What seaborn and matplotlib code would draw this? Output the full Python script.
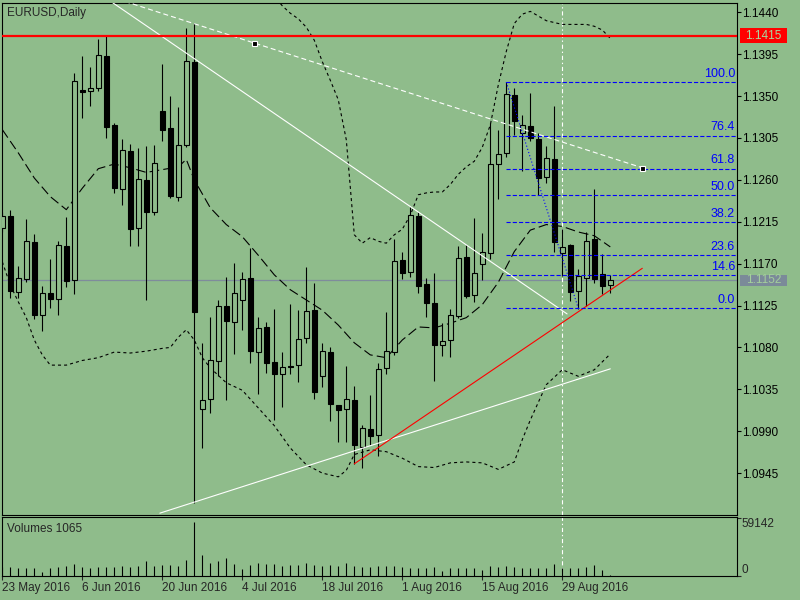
import matplotlib
matplotlib.use("Agg")
import matplotlib.pyplot as plt
import matplotlib.transforms as mtransforms
from matplotlib.patches import Rectangle
import numpy as np
import pandas as pd
import seaborn as sns

bg = "#8fbc8b"
sns.set_style("ticks", rc={"axes.facecolor": bg, "figure.facecolor": bg,
                           "axes.edgecolor": "black", "axes.linewidth": 0.8})
plt.rcParams["font.family"] = ["Liberation Sans", "DejaVu Sans"]
plt.rcParams["lines.scale_dashes"] = False

symbol = "EURUSD,Daily"
start_date = "2016-05-23"

# daily OHLC
opens = [1.1208, 1.1221, 1.1140, 1.1154, 1.1193, 1.1115, 1.1138, 1.1132, 1.1189, 1.1152,
         1.1357, 1.1355, 1.1359, 1.1393, 1.1319, 1.1250, 1.1291, 1.1208, 1.1260, 1.1226,
         1.1334, 1.1316, 1.1242, 1.1297, 1.1387, 1.1014, 1.1025, 1.1065, 1.1125, 1.1107,
         1.1131, 1.1155, 1.1075, 1.1102, 1.1064, 1.1051, 1.1060, 1.1061, 1.1090, 1.1120,
         1.1049, 1.1075, 1.1018, 1.1014, 1.1024, 1.0973, 1.0992, 1.0986, 1.1058, 1.1075,
         1.1174, 1.1161, 1.1221, 1.1148, 1.1128, 1.1083, 1.1088, 1.1114, 1.1177, 1.1136,
         1.1170, 1.1181, 1.1277, 1.1289, 1.1351, 1.1310, 1.1318, 1.1304, 1.1263, 1.1282,
         1.1181, 1.1190, 1.1141, 1.1155, 1.1196, 1.1159, 1.1147]
highs = [1.1226, 1.1228, 1.1168, 1.1218, 1.1202, 1.1146, 1.1175, 1.1194, 1.1220, 1.1375,
         1.1393, 1.1381, 1.1411, 1.1415, 1.1321, 1.1304, 1.1299, 1.1294, 1.1296, 1.1297,
         1.1384, 1.1350, 1.1338, 1.1423, 1.1428, 1.1085, 1.1113, 1.1131, 1.1156, 1.1171,
         1.1161, 1.1187, 1.1113, 1.1107, 1.1121, 1.1075, 1.1127, 1.1120, 1.1166, 1.1149,
         1.1085, 1.1081, 1.1018, 1.1060, 1.1039, 1.0997, 1.1029, 1.1063, 1.1118, 1.1196,
         1.1182, 1.1231, 1.1226, 1.1155, 1.1160, 1.1106, 1.1121, 1.1189, 1.1190, 1.1219,
         1.1203, 1.1321, 1.1314, 1.1365, 1.1359, 1.1330, 1.1353, 1.1310, 1.1296, 1.1339,
         1.1207, 1.1191, 1.1164, 1.1204, 1.1250, 1.1180, 1.1158]
lows = [1.1204, 1.1133, 1.1133, 1.1150, 1.1111, 1.1098, 1.1122, 1.1115, 1.1145, 1.1137,
        1.1326, 1.1339, 1.1355, 1.1305, 1.1246, 1.1233, 1.1189, 1.1189, 1.1131, 1.1222,
        1.1302, 1.1241, 1.1237, 1.1295, 1.0913, 1.0972, 1.1010, 1.1049, 1.1024, 1.1073,
        1.1099, 1.1063, 1.1030, 1.1053, 1.1002, 1.1016, 1.1052, 1.1043, 1.1085, 1.1025,
        1.1038, 1.1001, 1.0978, 1.0978, 1.0955, 1.0950, 1.0975, 1.0963, 1.1051, 1.1072,
        1.1153, 1.1156, 1.1139, 1.1113, 1.1044, 1.1071, 1.1070, 1.1112, 1.1133, 1.1129,
        1.1152, 1.1175, 1.1239, 1.1285, 1.1308, 1.1269, 1.1302, 1.1244, 1.1257, 1.1182,
        1.1157, 1.1130, 1.1121, 1.1125, 1.1149, 1.1137, 1.1138]
closes = [1.1221, 1.1141, 1.1155, 1.1194, 1.1115, 1.1139, 1.1132, 1.1190, 1.1151, 1.1366,
          1.1354, 1.1359, 1.1394, 1.1317, 1.1251, 1.1292, 1.1207, 1.1261, 1.1225, 1.1278,
          1.1314, 1.1243, 1.1297, 1.1388, 1.1118, 1.1024, 1.1066, 1.1124, 1.1108, 1.1139,
          1.1154, 1.1076, 1.1101, 1.1063, 1.1051, 1.1059, 1.1059, 1.1089, 1.1119, 1.1032,
          1.1076, 1.1019, 1.1013, 1.1025, 1.0975, 1.0993, 1.0985, 1.1057, 1.1076, 1.1173,
          1.1160, 1.1222, 1.1146, 1.1128, 1.1083, 1.1087, 1.1115, 1.1176, 1.1135, 1.1160,
          1.1182, 1.1277, 1.1288, 1.1352, 1.1323, 1.1319, 1.1305, 1.1262, 1.1283, 1.1193,
          1.1188, 1.1140, 1.1157, 1.1194, 1.1153, 1.1146, 1.1152]
volumes = [8736, 8736, 7728, 7728, 7728, 4368, 8400, 9408, 10416, 12768,
           9408, 7728, 8736, 9408, 9408, 10416, 9408, 10080, 15120, 10080,
           11088, 11088, 10080, 16128, 54800, 21168, 13440, 15120, 18816, 12768,
           7056, 11088, 13776, 12096, 12768, 10416, 11088, 11088, 13776, 11760,
           10080, 11088, 10080, 13776, 10080, 8736, 9408, 10416, 10416, 10080,
           9408, 7728, 7728, 8400, 9408, 5376, 7728, 8400, 8400, 7728,
           6048, 10080, 9408, 10080, 9408, 8400, 7728, 8400, 7728, 12768,
           8400, 8400, 8400, 9408, 11760, 6048, 1065]
volume_max = 59142

# bollinger-style bands (bar index, price)
mid_idx = [0, 2, 4, 6, 8, 10, 12, 14, 16, 18, 20, 22, 23, 24, 26, 28, 30, 32, 34, 36,
           38, 40, 42, 44, 46, 48, 50, 52, 54, 56, 58, 60, 62, 64, 66, 68, 70, 72, 74, 76]
mid_vals = [1.1314, 1.1289, 1.1262, 1.1242, 1.1228, 1.1251, 1.1272, 1.1277, 1.1273, 1.1268,
            1.1271, 1.1274, 1.1282, 1.1260, 1.1230, 1.1212, 1.1199, 1.1179, 1.1158, 1.1142,
            1.1131, 1.1120, 1.1104, 1.1085, 1.1072, 1.1069, 1.1088, 1.1102, 1.1101, 1.1106,
            1.1112, 1.1126, 1.1150, 1.1183, 1.1206, 1.1212, 1.1210, 1.1204, 1.1200, 1.1188]
upper_idx = list(range(34, 77))
upper_vals = [1.1457, 1.1447, 1.1439, 1.1433, 1.1424, 1.1410, 1.1387, 1.1367, 1.1346, 1.1303,
              1.1201, 1.1192, 1.1198, 1.1194, 1.1192, 1.1201, 1.1207, 1.1222, 1.1244, 1.1246,
              1.1247, 1.1247, 1.1255, 1.1266, 1.1274, 1.1280, 1.1295, 1.1319, 1.1362, 1.1398,
              1.1428, 1.1438, 1.1441, 1.1436, 1.1431, 1.1429, 1.1427, 1.1427, 1.1427, 1.1427,
              1.1425, 1.1421, 1.1412]
lower_idx = [0, 1, 2, 3, 4, 5, 6, 8, 10, 12, 14, 16, 18, 20, 21, 22, 23, 24, 25, 26,
             28, 30, 32, 34, 36, 38, 40, 42, 43, 44, 46, 48, 50, 52, 54, 56, 58, 60, 62, 64,
             65, 66, 68, 70, 72, 74, 76]
lower_vals = [1.1172, 1.1147, 1.1129, 1.1112, 1.1088, 1.1072, 1.1061, 1.1061, 1.1066, 1.1069,
              1.1075, 1.1074, 1.1076, 1.1079, 1.1080, 1.1091, 1.1099, 1.1088, 1.1069, 1.1058,
              1.1042, 1.1034, 1.1015, 1.0996, 1.0972, 1.0954, 1.0945, 1.0941, 1.0948, 1.0965,
              1.0970, 1.0968, 1.0961, 1.0952, 1.0951, 1.0956, 1.0957, 1.0956, 1.0949, 1.0957,
              1.0981, 1.1002, 1.1040, 1.1056, 1.1049, 1.1056, 1.1073]

# drawn objects: (bar, price) anchors
white_line = [(13, 1.1455), (70.6, 1.1116)]
white_lower_line = [(19.7, 1.0902), (76, 1.1057)]
white_dash_line = [(-17, 1.1541), (80, 1.1273)]
red_trend = [(44, 1.0955), (80, 1.1165)]
fib_start = (63, 1.1365)
fib_end = (72, 1.1122)
fib_levels = [0.0, 14.6, 23.6, 38.2, 50.0, 61.8, 76.4, 100.0]
red_level = 1.1415
bid = 1.1152
vline_bar = 70
price_ticks = [1.0945, 1.0990, 1.1035, 1.1080, 1.1125, 1.1170, 1.1215, 1.1260,
               1.1305, 1.1350, 1.1395, 1.1440]

n = len(opens)
idx = np.arange(n)
dates = pd.bdate_range(start_date, periods=n)

W, H = 800, 600
fig = plt.figure(figsize=(8, 6), dpi=100)
ax = fig.add_axes([2.3 / W, 1 - 515 / H, 734.7 / W, 512 / H])
axv = fig.add_axes([2.3 / W, 1 - 576 / H, 734.7 / W, 59 / H])
xmax = 734.7 / 8
for a in (ax, axv):
    a.set_xlim(0, xmax)
ax.set_ylim(1.0900, 1.1450)
axv.set_ylim(0, 60400)

# background objects
ax.axhline(bid, color="#7f8c9c", lw=0.9, zorder=1)
ax.axhline(red_level, color="#ff0000", lw=1.6, zorder=6)
for a in (ax, axv):
    a.axvline(vline_bar, color="white", lw=0.8, linestyle=(0, (3, 2, 1, 2)), zorder=1)

# bands
band_df = pd.concat([
    pd.DataFrame({"bar": mid_idx, "price": mid_vals, "band": "mid"}),
    pd.DataFrame({"bar": upper_idx, "price": upper_vals, "band": "upper"}),
    pd.DataFrame({"bar": lower_idx, "price": lower_vals, "band": "lower"}),
])
for name, dash in [("mid", (0, (7, 3))), ("upper", (0, (2.2, 2.2))), ("lower", (0, (2.2, 2.2)))]:
    sub = band_df[band_df["band"] == name]
    sns.lineplot(data=sub, x="bar", y="price", ax=ax, color="black", lw=0.8,
                 estimator=None, legend=False)
    ax.lines[-1].set_linestyle(dash)
    ax.lines[-1].set_zorder(2)

# candles
o, h, l, c = map(np.array, (opens, highs, lows, closes))
up = c >= o
ax.vlines(idx, l, h, color="black", lw=0.8, zorder=3)
body_lo = np.minimum(o, c)
body_h = np.maximum(np.abs(c - o), 0.00004)
ax.bar(idx[up], body_h[up], bottom=body_lo[up], width=0.6, color=bg,
       edgecolor="black", lw=0.8, zorder=4)
ax.bar(idx[~up], body_h[~up], bottom=body_lo[~up], width=0.6, color="black",
       edgecolor="black", lw=0.8, zorder=4)

# trend lines
(x0, y0), (x1, y1) = white_line
ax.plot([x0, x1], [y0, y1], color="white", lw=0.8, zorder=5)
(x0, y0), (x1, y1) = white_lower_line
ax.plot([x0, x1], [y0, y1], color="white", lw=0.8, zorder=5)
(x0, y0), (x1, y1) = white_dash_line
ax.plot([x0, x1], [y0, y1], color="white", lw=0.8, linestyle=(0, (3.6, 2.2)), zorder=5)
ax.plot([(x0 + x1) / 2, x1], [(y0 + y1) / 2, y1], ls="none", marker="s", ms=3.6,
        mfc="black", mec="white", mew=0.8, zorder=7)
(x0, y0), (x1, y1) = red_trend
ax.plot([x0, x1], [y0, y1], color="#ff0000", lw=0.8, zorder=5)

# fibonacci retracement
fx0, fhi = fib_start
fx1, flo = fib_end
ax.plot([fx0, fx1], [fhi, flo], color="#0000ff", lw=0.8, linestyle=(0, (0.8, 1.6)), zorder=5)
for lvl in fib_levels:
    yv = flo + (fhi - flo) * lvl / 100
    ax.hlines(yv, fx0, xmax, color="#0000ff", lw=0.8, linestyle=(0, (3, 1.5)), zorder=5)
    ax.text(0.9972, yv + 0.00022, f"{lvl:.1f}", transform=ax.get_yaxis_transform(),
            ha="right", va="bottom", color="#0000ff", fontsize=9, zorder=8)

# price axis
ax.yaxis.tick_right()
ax.set_yticks(price_ticks)
ax.set_yticklabels([f"{t:.4f}" for t in price_ticks])
ax.tick_params(axis="y", direction="out", length=3, width=0.8, pad=0.5, labelsize=8.5,
               colors="black")
ax.tick_params(axis="x", bottom=False, labelbottom=False)
ax.set_xlabel("")
ax.set_ylabel("")
ax.text(0.0064, 0.993, symbol, transform=ax.transAxes, ha="left", va="top", fontsize=8.5)

# price label boxes
trans = mtransforms.blended_transform_factory(fig.transFigure, ax.transData)
for level, half, face, txt_col in [(red_level, 0.00084, "#ff0000", "#a8d8a0"),
                                   (bid, 0.00059, "#7b8a99", "#a4cf9c")]:
    ax.add_patch(Rectangle((740 / W, level - half), 47 / W, 2 * half, transform=trans,
                           facecolor=face, edgecolor="none", clip_on=False, zorder=9))
    ax.text(763.5 / W, level, f"{level:.4f}", transform=trans, ha="center", va="center",
            color=txt_col, fontsize=8.5, clip_on=False, zorder=10)

# volumes
axv.vlines(idx, 0, volumes, color="black", lw=0.8, zorder=3)
axv.yaxis.tick_right()
axv.set_yticks([0, volume_max])
axv.set_yticklabels(["0", str(volume_max)])
axv.tick_params(axis="y", direction="out", length=3, width=0.8, pad=0.5, labelsize=8.5)
ylab = axv.get_yticklabels()
ylab[0].set_va("bottom")
ylab[1].set_va("top")
tick_bars = list(range(0, n, 10))
axv.set_xticks(tick_bars)
axv.set_xticklabels([f"{dates[i].day} {dates[i].strftime('%b %Y')}" for i in tick_bars])
axv.tick_params(axis="x", direction="out", length=3, width=0.8, pad=1, labelsize=8.5)
for lab in axv.get_xticklabels():
    lab.set_ha("left")
axv.set_xlabel("")
axv.set_ylabel("")
axv.text(0.0064, 0.90, f"Volumes {volumes[-1]}", transform=axv.transAxes,
         ha="left", va="top", fontsize=8.5)

fig.savefig("out.png", dpi=100, facecolor=bg)
